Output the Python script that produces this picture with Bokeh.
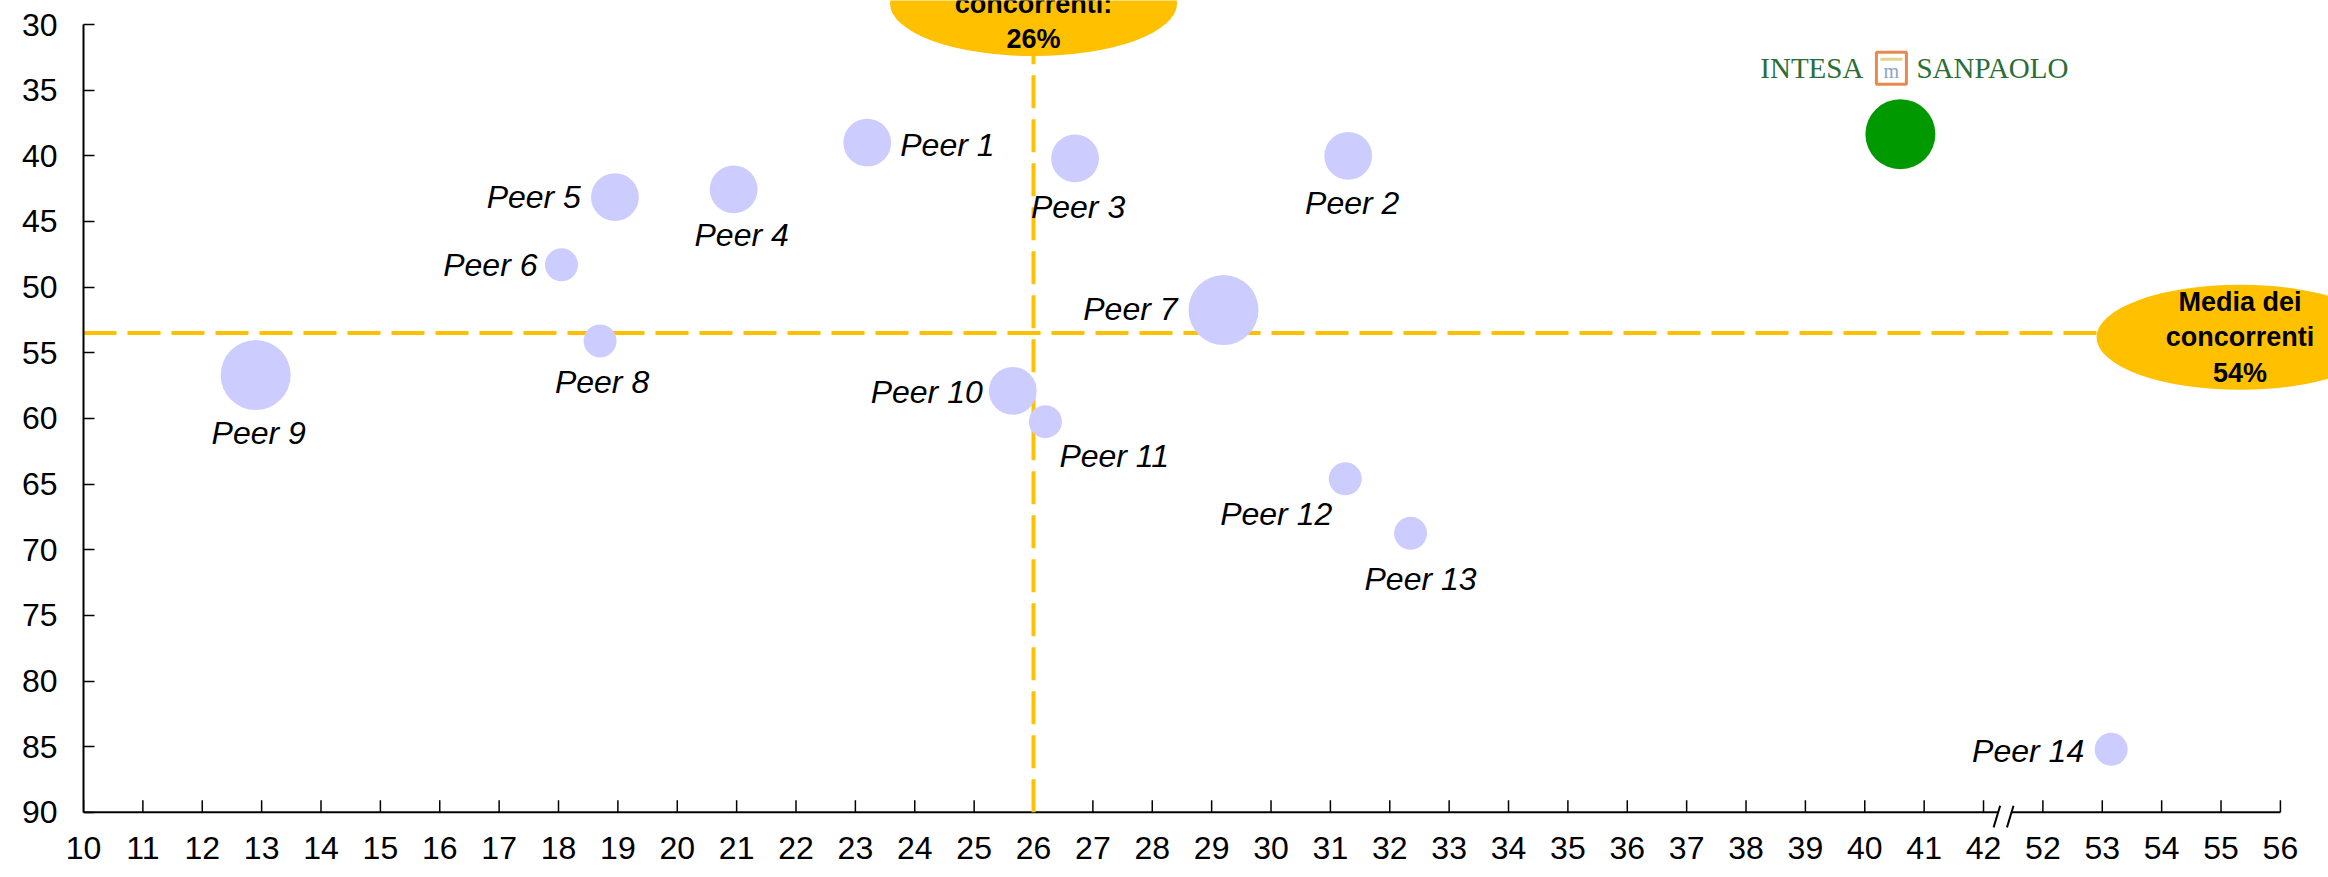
import math
from bokeh.plotting import figure
from bokeh.models import ColumnDataSource, Range1d, FixedTicker
from bokeh.core.properties import value
from bokeh.embed import file_html
from bokeh.resources import INLINE

# ---------------- data ----------------
peer_names = ["Peer 1", "Peer 2", "Peer 3", "Peer 4", "Peer 5", "Peer 6", "Peer 7",
              "Peer 8", "Peer 9", "Peer 10", "Peer 11", "Peer 12", "Peer 13", "Peer 14"]
peer_x = [23.2, 31.3, 26.7, 20.95, 18.95, 18.05, 29.2, 18.7, 12.9, 25.65, 26.2, 31.25, 32.35, 53.15]
peer_y = [39.0, 40.0, 40.2, 42.55, 43.15, 48.3, 51.75, 54.1, 56.7, 57.9, 60.25, 64.6, 68.75, 85.2]
peer_size = [2.1, 2.1, 2.1, 2.1, 2.1, 1, 4.5, 1, 4.5, 2.1, 1, 1, 1, 1]

intesa_name = "INTESA SANPAOLO"
intesa_x = 40.6
intesa_y = 38.35
intesa_size = 4.5

avg_x = 26        # media dei concorrenti (asse x)
avg_y = 53.5      # media dei concorrenti (asse y)
avg_x_text = "Media dei\nconcorrenti:\n26%"
avg_y_text = "Media dei\nconcorrenti\n54%"

x_tick_labels = list(range(10, 43)) + list(range(52, 57))
y_tick_labels = list(range(30, 95, 5))
x_break_low, x_break_high = 42, 52

# ---------------- helpers / layout ----------------
def tx(v):
    """broken x axis: values above the break are shifted left"""
    return v if v <= x_break_low else v - (x_break_high - x_break_low - 1)

BASE_D = 33.0
def diam(s):
    return BASE_D * math.sqrt(s)

PX_X = 59.38   # px per x unit
PX_Y = 13.13   # px per y unit
X_LO, X_HI = 10, 47.81
Y_TOP, Y_BOT = 28.17, 91.31

FONT = "Liberation Sans"
YELLOW = "#FFC000"

p = figure(width=2328, height=877,
           x_range=Range1d(X_LO, X_HI), y_range=Range1d(Y_BOT, Y_TOP),
           output_backend="svg", toolbar_location=None,
           min_border_left=83, min_border_right=0, min_border_top=0, min_border_bottom=48)
p.outline_line_color = None
p.xgrid.visible = False
p.ygrid.visible = False
p.background_fill_color = "white"
p.border_fill_color = "white"

ymax = y_tick_labels[-1]
xt = [tx(v) for v in x_tick_labels]

# x axis: labels from the axis model, line and ticks drawn at y = 90
xa = p.xaxis[0]
xa.ticker = FixedTicker(ticks=xt)
xa.major_label_overrides = {tx(v): str(v) for v in x_tick_labels}
xa.axis_line_color = None
xa.major_tick_line_color = None
xa.minor_tick_line_color = None
xa.major_tick_in = 0
xa.major_tick_out = 0
xa.major_label_standoff = 7
xa.major_label_text_font = FONT
xa.major_label_text_font_size = "32px"
xa.major_label_text_color = "black"

brk = x_break_low + 0.34
gap_l, gap_r = brk - 0.10, brk + 0.13
p.segment(x0=[xt[0], gap_r], y0=[ymax, ymax], x1=[gap_l, xt[-1]], y1=[ymax, ymax],
          line_color="black", line_width=2)
p.segment(x0=xt, y0=[ymax] * len(xt), x1=xt, y1=[ymax - 12 / PX_Y] * len(xt),
          line_color="black", line_width=1.5)
# break marks
p.segment(x0=[brk - 0.06, brk + 0.165], y0=[89.5, 89.5],
          x1=[brk - 0.17, brk + 0.055], y1=[91.15, 91.15],
          line_color="black", line_width=2)

ya = p.yaxis[0]
ya.ticker = FixedTicker(ticks=y_tick_labels)
ya.bounds = (y_tick_labels[0], y_tick_labels[-1])
ya.major_tick_in = 11
ya.major_tick_out = 0
ya.minor_tick_line_color = None
ya.major_label_standoff = 26
ya.major_label_text_font = FONT
ya.major_label_text_font_size = "32px"
ya.major_label_text_color = "black"
ya.axis_line_width = 2
ya.major_tick_line_width = 1.5

# average lines (dashed, start at the axes)
p.segment(x0=[avg_x], y0=[ymax], x1=[avg_x], y1=[Y_TOP],
          line_color=YELLOW, line_width=4, line_dash="33 11")
p.segment(x0=[X_LO], y0=[avg_y], x1=[X_HI], y1=[avg_y],
          line_color=YELLOW, line_width=4, line_dash="33 11")

# bubbles
src = ColumnDataSource(dict(x=[tx(v) for v in peer_x], y=peer_y,
                            d=[diam(s) for s in peer_size], name=peer_names))
p.scatter("x", "y", size="d", source=src, marker="circle",
          fill_color="#CCCCFF", line_color=None)
p.scatter([tx(intesa_x)], [intesa_y], size=diam(intesa_size), marker="circle",
          fill_color="#009900", line_color=None)

# peer labels (layout: dx, dy in px, alignment)
label_layout = {
    "Peer 1": (33, 2, "left"), "Peer 2": (4, 47, "center"), "Peer 3": (3, 49, "center"),
    "Peer 4": (8, 46, "center"), "Peer 5": (-34, 0, "right"), "Peer 6": (-24, 0, "right"),
    "Peer 7": (-46, -1, "right"), "Peer 8": (2, 41, "center"), "Peer 9": (3, 58, "center"),
    "Peer 10": (-30, 1, "right"), "Peer 11": (14, 34, "left"), "Peer 12": (-13, 35, "right"),
    "Peer 13": (10, 46, "center"), "Peer 14": (-27, 2, "right"),
}
for align in ("left", "center", "right"):
    idx = [i for i, n in enumerate(peer_names) if label_layout[n][2] == align]
    ls = ColumnDataSource(dict(
        x=[tx(peer_x[i]) for i in idx], y=[peer_y[i] for i in idx],
        t=[peer_names[i] for i in idx],
        dx=[label_layout[peer_names[i]][0] for i in idx],
        dy=[label_layout[peer_names[i]][1] for i in idx]))
    p.text("x", "y", text="t", x_offset="dx", y_offset="dy", source=ls,
           text_font=value(FONT), text_font_style="italic", text_font_size="32px",
           text_color="black", text_align=align, text_baseline="middle")

# average callout ellipses
ell = ColumnDataSource(dict(x=[avg_x, 46.32], y=[28.4, avg_y + 0.32],
                            t=[avg_x_text, avg_y_text]))
p.ellipse("x", "y", width=287, height=105, width_units="screen", height_units="screen",
          source=ell, fill_color=YELLOW, line_color=None)
p.text("x", "y", text="t", source=ell, text_font=value(FONT), text_font_style="bold",
       text_font_size="27px", text_color="black", text_align="center",
       text_baseline="middle", text_line_height=1.18)

# logo above the Intesa bubble
lx, ly = tx(intesa_x), intesa_y
GREEN = "#2A6E38"
p.text([lx], [ly], text=["INTESA"], x_offset=-37, y_offset=-66, text_font=value("Liberation Serif"),
       text_font_size="29px", text_color=GREEN, text_align="right", text_baseline="middle")
p.text([lx], [ly], text=["SANPAOLO"], x_offset=16, y_offset=-66, text_font=value("Liberation Serif"),
       text_font_size="29px", text_color=GREEN, text_align="left", text_baseline="middle")
bx, by = lx - 9 / PX_X, ly - 66 / PX_Y
p.rect([bx], [by], width=30, height=32, width_units="screen", height_units="screen",
       fill_color="white", line_color="#E88A4E", line_width=3)
p.rect([bx], [by - 9 / PX_Y], width=22, height=3, width_units="screen", height_units="screen",
       fill_color="#E6D38A", line_color=None)
p.text([bx], [by], text=["m"], y_offset=3, text_font=value("Liberation Serif"),
       text_font_size="20px", text_color="#8AA2CF", text_align="center", text_baseline="middle")

open("out.html", "w").write(file_html(p, INLINE))
